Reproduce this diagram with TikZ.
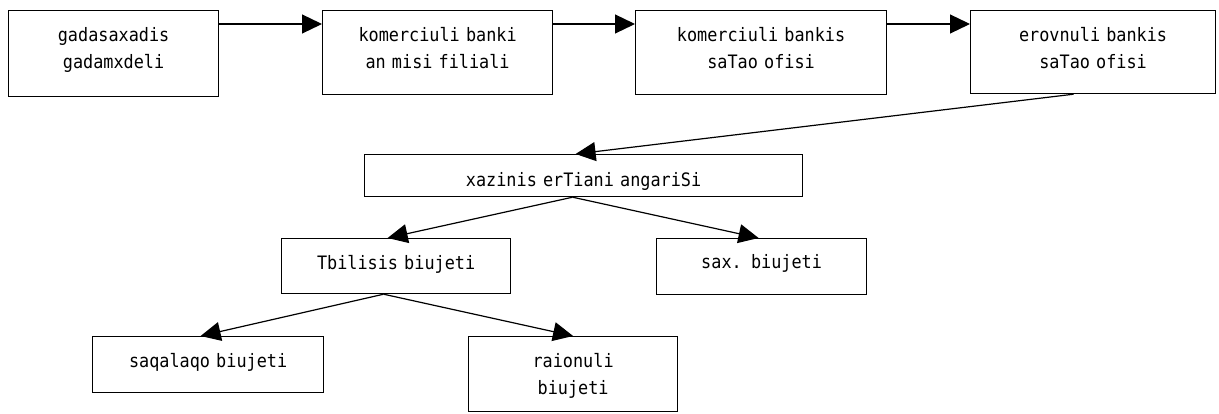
\documentclass[tikz,border=0pt]{standalone}
\usepackage{fontspec}
\newfontfamily\boxfont[FakeStretch=0.91]{DejaVu Sans Mono}
\usetikzlibrary{arrows.meta}
\begin{document}
\begin{tikzpicture}[x=1pt,y=-1pt,
  bx/.style={draw, line width=1.2pt, inner sep=0pt, align=center, anchor=north west,
    font=\boxfont\fontsize{18.5}{27}\selectfont},
  arr/.style={line width=1.2pt, -{Triangle[length=20pt,width=19pt]}}]
\useasboundingbox (0,0) rectangle (1219,414);
\node[bx, text width=210pt, text height=30.5pt, text depth=55.5pt] (b1) at (8,10) {gadasaxadis\\gadamxdeli};
\node[bx, text width=230pt, text height=30.5pt, text depth=53.5pt] (b2) at (322,10) {komerciuli banki\\an misi filiali};
\node[bx, text width=251pt, text height=30.5pt, text depth=53.5pt] (b3) at (635,10) {komerciuli bankis\\saTao ofisi};
\node[bx, text width=245pt, text height=30.5pt, text depth=52.5pt] (b4) at (970,10) {erovnuli bankis\\saTao ofisi};
\node[bx, text width=438pt, text height=32pt, text depth=10pt] (x) at (364,154) {xazinis erTiani angariSi};
\node[bx, text width=229pt, text height=30.5pt, text depth=24.5pt] (t) at (281,238) {Tbilisis biujeti};
\node[bx, text width=210pt, text height=30.3pt, text depth=25.7pt] (s) at (656,238) {sax. biujeti};
\node[bx, text width=231pt, text height=30.7pt, text depth=25.3pt] (q) at (92,336) {saqalaqo biujeti};
\node[bx, text width=209pt, text height=30.7pt, text depth=44.3pt] (r) at (468,336) {raionuli\\biujeti};
\draw[arr] ([yshift=-14pt]b1.north east) -- ([yshift=-14pt]b2.north west);
\draw[arr] ([yshift=-14pt]b2.north east) -- ([yshift=-14pt]b3.north west);
\draw[arr] ([yshift=-14pt]b3.north east) -- ([yshift=-14pt]b4.north west);
\draw[arr] ([xshift=-19.5pt]b4.south) -- ([xshift=-8pt]x.north);
\draw[arr] ([xshift=-11pt]x.south) -- ([xshift=-8.5pt]t.north);
\draw[arr] ([xshift=-11pt]x.south) -- ([xshift=-3pt]s.north);
\draw[arr] ([xshift=-12.5pt]t.south) -- ([xshift=-7.5pt]q.north);
\draw[arr] ([xshift=-12.5pt]t.south) -- (r.north);
\end{tikzpicture}
\end{document}
